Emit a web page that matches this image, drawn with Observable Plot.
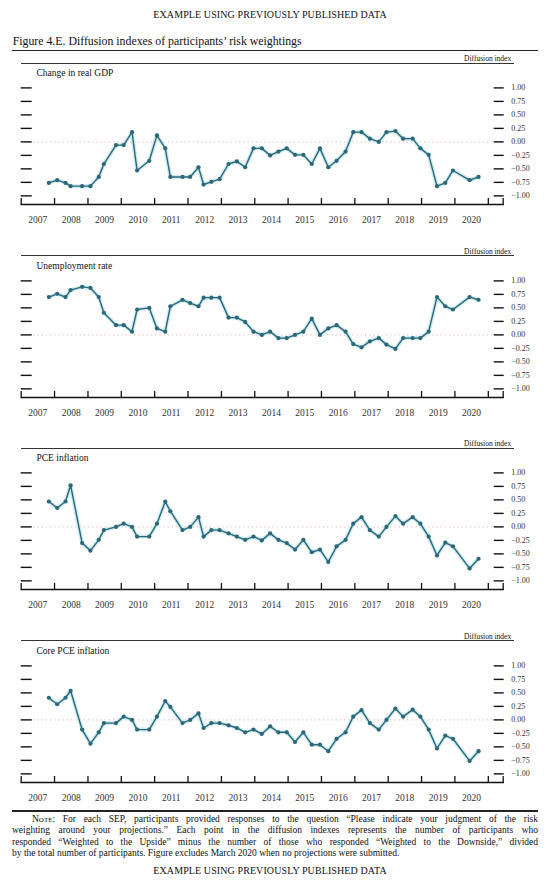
<!DOCTYPE html>
<html>
<head>
<meta charset="utf-8">
<script src="https://cdn.jsdelivr.net/npm/d3@7"></script>
<script src="https://cdn.jsdelivr.net/npm/@observablehq/plot@0.6"></script>
<style>
  html, body { margin: 0; padding: 0; background: #fff; }
  #page { position: relative; width: 550px; height: 890px; overflow: hidden; font-family: "Liberation Serif", serif; color: #111; }
  .abs { position: absolute; }
  .rule { position: absolute; background: #222; }
  .noteline { text-align: justify; text-align-last: justify; }
  .noteline.last { text-align-last: left; }
</style>
</head>
<body>
<div id="page"></div>
<script>
// ---------- DATA ----------
const dates = [
  "2007-10-31",
  "2008-01-30","2008-04-30","2008-06-25","2008-10-29",
  "2009-01-28","2009-04-29","2009-06-24","2009-11-04",
  "2010-01-27","2010-04-28","2010-06-23","2010-11-03",
  "2011-01-26","2011-04-27","2011-06-22","2011-11-02",
  "2012-01-25","2012-04-25","2012-06-20","2012-09-13","2012-12-12",
  "2013-03-20","2013-06-19","2013-09-18","2013-12-18",
  "2014-03-19","2014-06-18","2014-09-17","2014-12-17",
  "2015-03-18","2015-06-17","2015-09-17","2015-12-16",
  "2016-03-16","2016-06-15","2016-09-21","2016-12-14",
  "2017-03-15","2017-06-14","2017-09-20","2017-12-13",
  "2018-03-21","2018-06-13","2018-09-26","2018-12-19",
  "2019-03-20","2019-06-19","2019-09-18","2019-12-11",
  "2020-06-10","2020-09-16"
];
const gdp = [-0.76,-0.71,-0.76,-0.82,-0.82,-0.82,-0.65,-0.41,-0.06,-0.06,0.18,-0.53,-0.35,0.12,-0.12,-0.65,
  -0.65,-0.65,-0.47,-0.79,-0.74,-0.69,-0.41,-0.36,-0.47,-0.12,-0.12,-0.25,-0.18,-0.12,-0.24,-0.24,-0.41,-0.12,
  -0.47,-0.35,-0.18,0.18,0.18,0.06,0.0,0.18,0.2,0.06,0.06,-0.12,-0.24,-0.82,-0.76,-0.53,-0.71,-0.65];
const unemployment = [0.70,0.76,0.70,0.83,0.89,0.87,0.70,0.41,0.18,0.18,0.06,0.47,0.50,0.12,0.06,0.53,
  0.65,0.59,0.53,0.69,0.69,0.69,0.32,0.32,0.24,0.06,0.0,0.06,-0.06,-0.06,0.0,0.06,0.30,0.0,
  0.12,0.18,0.06,-0.17,-0.23,-0.12,-0.06,-0.18,-0.26,-0.06,-0.06,-0.06,0.06,0.70,0.53,0.47,0.70,0.65];
const pce = [0.47,0.35,0.47,0.77,-0.30,-0.44,-0.24,-0.06,0.0,0.06,0.0,-0.18,-0.18,0.06,0.47,0.29,
  -0.06,0.0,0.18,-0.18,-0.06,-0.06,-0.12,-0.18,-0.24,-0.18,-0.25,-0.12,-0.24,-0.30,-0.42,-0.24,-0.47,-0.42,
  -0.65,-0.36,-0.24,0.06,0.18,-0.06,-0.18,0.0,0.20,0.06,0.18,0.06,-0.18,-0.53,-0.29,-0.36,-0.77,-0.59];
const corePce = [0.41,0.29,0.41,0.54,-0.18,-0.44,-0.23,-0.06,-0.06,0.06,0.0,-0.18,-0.18,0.06,0.35,0.24,
  -0.06,0.0,0.12,-0.15,-0.06,-0.06,-0.10,-0.15,-0.23,-0.18,-0.26,-0.12,-0.23,-0.23,-0.41,-0.23,-0.46,-0.46,
  -0.58,-0.35,-0.23,0.06,0.18,-0.06,-0.18,0.0,0.21,0.06,0.19,0.06,-0.18,-0.53,-0.29,-0.35,-0.76,-0.58];
const panelTitles = ["Change in real GDP", "Unemployment rate", "PCE inflation", "Core PCE inflation"];
const yTicks = [-1, -0.75, -0.5, -0.25, 0, 0.25, 0.5, 0.75, 1];
const yearTicks = ["2007","2008","2009","2010","2011","2012","2013","2014","2015","2016","2017","2018","2019","2020","2021"];
const yearLabels = ["2007","2008","2009","2010","2011","2012","2013","2014","2015","2016","2017","2018","2019","2020"];
const xStart = "2007-01-01";
const xEnd = "2021-06-13";
const yMin = -1.16, yMax = 1;

const headerText = "EXAMPLE USING PREVIOUSLY PUBLISHED DATA";
const figureTitle = "Figure 4.E. Diffusion indexes of participants\u2019 risk weightings";
const unitLabel = "Diffusion index";
const noteLines = [
  "<span style=\"font-variant: small-caps\">Note:</span> For each SEP, participants provided responses to the question \u201CPlease indicate your judgment of the risk",
  "weighting around your projections.\u201D Each point in the diffusion indexes represents the number of participants who",
  "responded \u201CWeighted to the Upside\u201D minus the number of those who responded \u201CWeighted to the Downside,\u201D divided",
  "by the total number of participants. Figure excludes March 2020 when no projections were submitted."
];

// ---------- BUILD ----------
const page = document.getElementById("page");
const parse = s => new Date(s + "T00:00:00Z");
const seriesList = [gdp, unemployment, pce, corePce];

function addDiv(html, css, cls) {
  const d = document.createElement("div");
  d.className = cls || "abs";
  d.innerHTML = html;
  Object.assign(d.style, css);
  page.appendChild(d);
  return d;
}

// header
addDiv(headerText, {left: "0px", width: "540px", top: "9px", textAlign: "center", fontSize: "10px", letterSpacing: "0.1px"});
// figure title
addDiv(figureTitle, {left: "12.7px", top: "33.5px", fontSize: "11.8px", whiteSpace: "nowrap"});
// title rule
addDiv("", {left: "12px", top: "49.8px", width: "526px", height: "1.5px"}, "rule");

const panelRuleY = [63.3, 255.7, 448.3, 640.7];
const svgH = 178;

seriesList.forEach((vals, i) => {
  const data = dates.map((d, j) => ({date: parse(d), value: vals[j]}));
  const top = panelRuleY[i] - 13;
  // panel rule
  addDiv("", {left: "20.7px", top: (panelRuleY[i] - 0.6) + "px", width: "493.3px", height: "1.3px", background: "#333"}, "rule");
  const chart = Plot.plot({
    width: 550,
    height: svgH,
    marginTop: 37.4,
    marginBottom: 24,
    marginLeft: 20.7,
    marginRight: 47.3,
    style: {fontFamily: "'Liberation Serif', serif", fontSize: "8px", background: "transparent", overflow: "visible", color: "#111"},
    x: {type: "utc", domain: [parse(xStart), parse(xEnd)]},
    y: {domain: [yMin, yMax]},
    marks: [
      Plot.ruleY([0], {stroke: "#d9b3b3", strokeDasharray: "1.2,3", strokeWidth: 1}),
      Plot.axisY(yTicks, {anchor: "left", tickSize: 11, dx: 11, tickFormat: () => "", strokeWidth: 1.4, label: null}),
      Plot.axisY(yTicks, {anchor: "right", tickSize: 10, dx: -10, tickPadding: 8, tickFormat: d3.format(".2f"), strokeWidth: 1.4, fontSize: 8, fill: "#333", label: null}),
      Plot.frame({anchor: "bottom", strokeWidth: 1.5, stroke: "#111"}),
      Plot.axisX([...yearTicks.map(y => parse(y + "-01-01")), parse(xEnd)], {anchor: "bottom", tickSize: 6, dy: -6, tickFormat: () => "", strokeWidth: 1.3, label: null}),
      Plot.axisX(yearLabels.map(y => parse(y + "-07-02")), {anchor: "bottom", tickSize: 0, tickPadding: 11.5, tickFormat: d => String(d.getUTCFullYear()), fontSize: 9.5, fill: "#333", label: null}),
      Plot.line(data, {x: "date", y: "value", stroke: "#cdeaf1", strokeWidth: 4, strokeLinejoin: "round"}),
      Plot.line(data, {x: "date", y: "value", stroke: "#2c6878", strokeWidth: 1.4}),
      Plot.dot(data, {x: "date", y: "value", r: 2.1, fill: "#2c6878", stroke: null}),
      Plot.text([panelTitles[i]], {frameAnchor: "top-left", dx: 15.3, dy: -15, textAnchor: "start", lineAnchor: "middle", fontSize: 9.5, fill: "#111"}),
      Plot.text([unitLabel], {frameAnchor: "top-right", dx: 8, dy: -29.6, textAnchor: "end", lineAnchor: "middle", fontSize: 7.5, fill: "#111"})
    ]
  });
  chart.style.position = "absolute";
  chart.style.left = "0px";
  chart.style.top = top + "px";
  page.appendChild(chart);
});

// note rule
addDiv("", {left: "12px", top: "810.3px", width: "526px", height: "1.3px"}, "rule");
// note
const note = addDiv("", {left: "12px", top: "813.5px", width: "526px", fontSize: "9.5px", lineHeight: "11.6px"});
noteLines.forEach((ln, k) => {
  const d = document.createElement("div");
  d.className = "noteline" + (k === noteLines.length - 1 ? " last" : "");
  if (k === 0) d.style.paddingLeft = "20px";
  d.innerHTML = ln;
  note.appendChild(d);
});
// footer
addDiv(headerText, {left: "0px", width: "540px", top: "865px", textAlign: "center", fontSize: "10px", letterSpacing: "0.1px"});
</script>
</body>
</html>
